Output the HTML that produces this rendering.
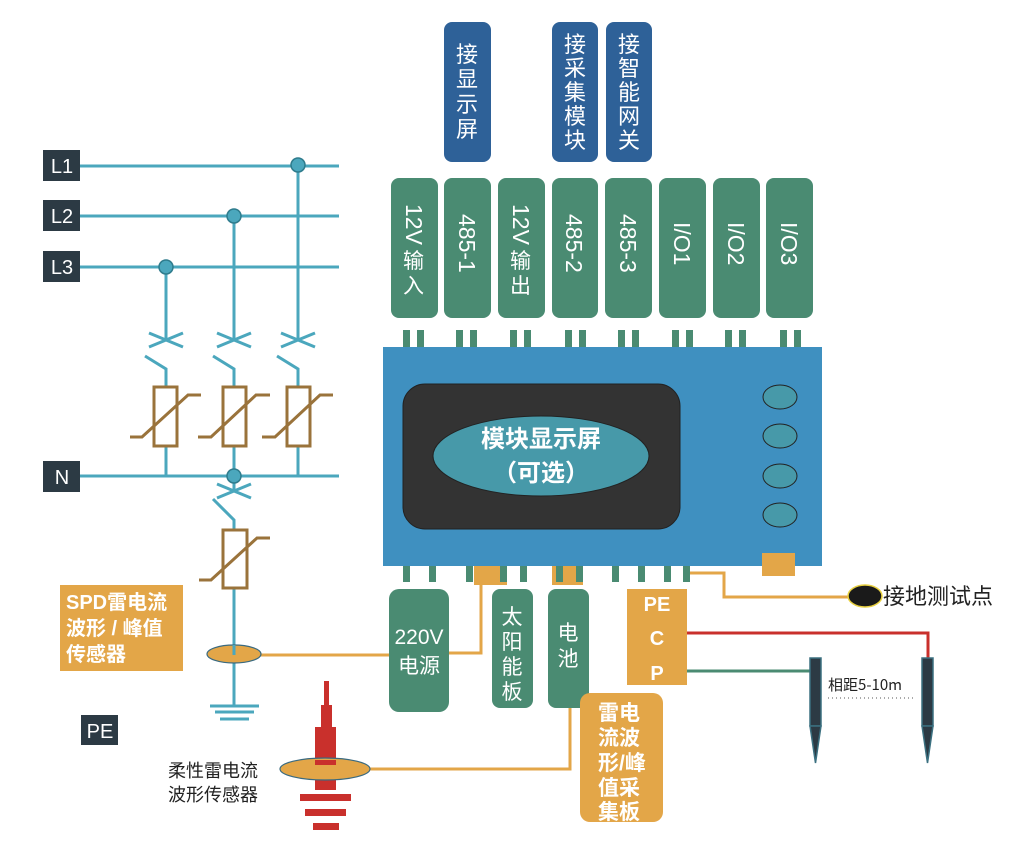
<!DOCTYPE html>
<html><head><meta charset="utf-8"><style>
html,body{margin:0;padding:0;background:#fff;}
svg{display:block;}
text{font-family:"Liberation Sans","Noto Sans CJK SC",sans-serif;}
.cjk{font-family:"Noto Sans CJK SC","Liberation Sans",sans-serif;}
</style></head><body>
<svg width="1026" height="854" viewBox="0 0 1026 854" xmlns="http://www.w3.org/2000/svg">
<g fill="#2e6198">
<rect x="444" y="22" width="47" height="140" rx="8"/>
<rect x="552" y="22" width="46" height="140" rx="8"/>
<rect x="606" y="22" width="46" height="140" rx="8"/>
</g>
<g class="cjk" fill="#fff" font-size="22" text-anchor="middle">
<text x="467" y="62">接</text><text x="467" y="87">显</text><text x="467" y="112">示</text><text x="467" y="137">屏</text>
<text x="575" y="52">接</text><text x="575" y="76">采</text><text x="575" y="100">集</text><text x="575" y="124">模</text><text x="575" y="148">块</text>
<text x="629" y="52">接</text><text x="629" y="76">智</text><text x="629" y="100">能</text><text x="629" y="124">网</text><text x="629" y="148">关</text>
</g>
<g fill="#4a8b72">
<rect x="391" y="178" width="47" height="140" rx="8"/>
<rect x="444" y="178" width="47" height="140" rx="8"/>
<rect x="498" y="178" width="47" height="140" rx="8"/>
<rect x="552" y="178" width="46" height="140" rx="8"/>
<rect x="605" y="178" width="47" height="140" rx="8"/>
<rect x="659" y="178" width="47" height="140" rx="8"/>
<rect x="713" y="178" width="47" height="140" rx="8"/>
<rect x="766" y="178" width="47" height="140" rx="8"/>
</g>
<g class="cjk" fill="#fff" font-size="23">
<text transform="translate(406,204) rotate(90)">12V</text>
<text x="403" y="268" font-size="21">输</text><text x="403" y="293" font-size="21">入</text>
<text transform="translate(459,214) rotate(90)">485-1</text>
<text transform="translate(513,204) rotate(90)">12V</text>
<text x="510" y="268" font-size="21">输</text><text x="510" y="293" font-size="21">出</text>
<text transform="translate(566,214) rotate(90)">485-2</text>
<text transform="translate(620,214) rotate(90)">485-3</text>
<text transform="translate(674,222) rotate(90)">I/O1</text>
<text transform="translate(728,222) rotate(90)">I/O2</text>
<text transform="translate(781,222) rotate(90)">I/O3</text>
</g>
<g fill="#4a8b72">
<rect x="403" y="330" width="7" height="18"/><rect x="417" y="330" width="7" height="18"/>
<rect x="456" y="330" width="7" height="18"/><rect x="470" y="330" width="7" height="18"/>
<rect x="510" y="330" width="7" height="18"/><rect x="524" y="330" width="7" height="18"/>
<rect x="565" y="330" width="7" height="18"/><rect x="579" y="330" width="7" height="18"/>
<rect x="618" y="330" width="7" height="18"/><rect x="632" y="330" width="7" height="18"/>
<rect x="672" y="330" width="7" height="18"/><rect x="686" y="330" width="7" height="18"/>
<rect x="725" y="330" width="7" height="18"/><rect x="739" y="330" width="7" height="18"/>
<rect x="780" y="330" width="7" height="18"/><rect x="794" y="330" width="7" height="18"/>
</g>
<rect x="383" y="347" width="439" height="219" fill="#3f90c0"/>
<rect x="403" y="384" width="277" height="145" rx="22" fill="#333" stroke="#222"/>
<ellipse cx="541" cy="456" rx="108" ry="40" fill="#4799a9" stroke="#222"/>
<text class="cjk" x="541" y="447" fill="#fff" font-size="24" font-weight="bold" text-anchor="middle">模块显示屏</text>
<text class="cjk" x="541" y="481" fill="#fff" font-size="24" font-weight="bold" text-anchor="middle">（可选）</text>
<g fill="#4799a9" stroke="#222">
<ellipse cx="780" cy="397" rx="17" ry="12"/><ellipse cx="780" cy="436" rx="17" ry="12"/>
<ellipse cx="780" cy="476" rx="17" ry="12"/><ellipse cx="780" cy="515" rx="17" ry="12"/>
</g>
<rect x="762" y="553" width="33" height="23" fill="#e3a648"/>
<rect x="474" y="566" width="33" height="19" fill="#e3a648"/>
<rect x="552" y="566" width="31" height="19" fill="#e3a648"/>
<g fill="#4a8b72">
<rect x="403" y="566" width="7" height="16"/><rect x="429" y="566" width="7" height="16"/>
<rect x="466" y="566" width="7" height="16"/><rect x="500" y="566" width="7" height="16"/>
<rect x="520" y="566" width="7" height="16"/><rect x="556" y="566" width="7" height="16"/>
<rect x="576" y="566" width="7" height="16"/><rect x="612" y="566" width="7" height="16"/>
<rect x="638" y="566" width="7" height="16"/><rect x="664" y="566" width="7" height="16"/>
<rect x="683" y="566" width="7" height="16"/>
</g>
<g fill="#4a8b72">
<rect x="389" y="589" width="60" height="123" rx="10"/>
<rect x="492" y="589" width="41" height="119" rx="8"/>
<rect x="548" y="589" width="41" height="119" rx="8"/>
</g>
<g class="cjk" fill="#fff" text-anchor="middle">
<text x="419" y="644" font-size="21">220V</text><text x="419" y="673" font-size="21">电源</text>
<text x="512" y="624" font-size="21">太</text><text x="512" y="649" font-size="21">阳</text><text x="512" y="674" font-size="21">能</text><text x="512" y="699" font-size="21">板</text>
<text x="568" y="640" font-size="21">电</text><text x="568" y="666" font-size="21">池</text>
</g>
<rect x="627" y="589" width="60" height="96" fill="#e3a648"/>
<g class="cjk" fill="#fff" font-size="20" font-weight="bold" text-anchor="middle">
<text x="657" y="611">PE</text><text x="657" y="645">C</text><text x="657" y="680">P</text>
</g>
<rect x="580" y="693" width="83" height="129" rx="10" fill="#e3a648"/>
<g class="cjk" fill="#fff" font-size="21" font-weight="bold">
<text x="598" y="720">雷电</text><text x="598" y="745">流波</text><text x="598" y="770">形/峰</text><text x="598" y="795">值采</text><text x="598" y="819">集板</text>
</g>
<g fill="none" stroke="#e3a648" stroke-width="3">
<polyline points="449,653 481,653 481,585"/>
<polyline points="260,655 389,655"/>
<polyline points="370,769 570,769 570,708"/>
<polyline points="690,573 724,573 724,597 848,597"/>
</g>
<polyline points="687,633 928,633 928,658" fill="none" stroke="#c9302c" stroke-width="3"/>
<polyline points="687,671 810,671" fill="none" stroke="#4a8b72" stroke-width="3"/>
<g fill="#2c3a44" stroke="#3b7080" stroke-width="1.5">
<rect x="810" y="658" width="11" height="68"/><polygon points="810,726 821,726 815.5,763"/>
<rect x="922" y="658" width="11" height="68"/><polygon points="922,726 933,726 927.5,763"/>
</g>
<text class="cjk" x="828" y="690" font-size="15" fill="#222">相距5-10m</text>
<line x1="828" y1="698" x2="916" y2="698" stroke="#555" stroke-dasharray="1,3"/>
<ellipse cx="865" cy="596" rx="17" ry="11" fill="#1a1a1a" stroke="#e8d040" stroke-width="1.5"/>
<text class="cjk" x="883" y="604" font-size="22" fill="#222">接地测试点</text>
<g stroke="#4ba7bd" stroke-width="3" fill="none">
<line x1="80" y1="166" x2="339" y2="166"/>
<line x1="80" y1="216" x2="339" y2="216"/>
<line x1="80" y1="267" x2="339" y2="267"/>
<line x1="80" y1="476" x2="339" y2="476"/>
<line x1="298" y1="166" x2="298" y2="340"/>
<line x1="234" y1="216" x2="234" y2="340"/>
<line x1="166" y1="267" x2="166" y2="340"/>
<path d="M149,333 L183,347 M149,347 L183,333"/>
<path d="M217,333 L251,347 M217,347 L251,333"/>
<path d="M281,333 L315,347 M281,347 L315,333"/>
<polyline points="145,356 166,369 166,387"/>
<polyline points="213,356 234,369 234,387"/>
<polyline points="277,356 298,369 298,387"/>
<line x1="166" y1="447" x2="166" y2="476"/>
<line x1="234" y1="447" x2="234" y2="476"/>
<line x1="298" y1="447" x2="298" y2="476"/>
<path d="M217,484 L251,498 M217,498 L251,484"/>
<line x1="234" y1="476" x2="234" y2="491"/>
<polyline points="213,499 234,520 234,530"/>
<line x1="234" y1="589" x2="234" y2="706"/>
<line x1="210" y1="706" x2="259" y2="706"/>
<line x1="215" y1="712" x2="254" y2="712"/>
<line x1="220" y1="719" x2="249" y2="719"/>
</g>
<g fill="#4ba7bd" stroke="#2e7b8c" stroke-width="1.5">
<circle cx="298" cy="165" r="7"/><circle cx="234" cy="216" r="7"/><circle cx="166" cy="267" r="7"/><circle cx="234" cy="476" r="7"/>
</g>
<g stroke="#9a733b" stroke-width="3" fill="#fff">
<rect x="154" y="387" width="23" height="59"/>
<rect x="223" y="387" width="23" height="59"/>
<rect x="287" y="387" width="23" height="59"/>
<rect x="223" y="530" width="24" height="58"/>
</g>
<g stroke="#9a733b" stroke-width="3" fill="none">
<polyline points="130,437 142,437 188,395 201,395"/>
<polyline points="198,437 211,437 256,395 270,395"/>
<polyline points="262,437 275,437 320,395 333,395"/>
<polyline points="199,580 211,580 257,538 270,538"/>
</g>
<ellipse cx="234" cy="654" rx="27" ry="9" fill="#e3a648" stroke="#3a6a80" stroke-width="1.2"/>
<line x1="234" y1="645" x2="234" y2="655" stroke="#4ba7bd" stroke-width="3"/>
<g fill="#2c3a44">
<rect x="43" y="150" width="37" height="31"/><rect x="43" y="200" width="37" height="31"/>
<rect x="43" y="251" width="37" height="31"/><rect x="43" y="461" width="37" height="31"/>
<rect x="81" y="715" width="37" height="30"/>
</g>
<g fill="#fff" font-size="20" text-anchor="middle">
<text x="62" y="173">L1</text><text x="62" y="223">L2</text><text x="62" y="274">L3</text><text x="62" y="484">N</text><text x="100" y="738">PE</text>
</g>
<rect x="60" y="585" width="123" height="86" fill="#e3a648"/>
<g class="cjk" fill="#fff" font-size="20" font-weight="bold">
<text x="66" y="609">SPD雷电流</text><text x="66" y="635">波形 / 峰值</text><text x="66" y="661">传感器</text>
</g>
<g fill="#c9302c">
<rect x="324" y="681" width="5" height="25"/>
<rect x="321" y="705" width="11" height="22"/>
<rect x="315" y="727" width="21" height="40"/>
<rect x="315" y="780" width="21" height="10"/>
<rect x="300" y="794" width="51" height="7"/>
<rect x="305" y="809" width="41" height="7"/>
<rect x="313" y="823" width="26" height="7"/>
</g>
<ellipse cx="325" cy="769" rx="45" ry="11" fill="#e3a648" stroke="#3a6a80" stroke-width="1.2"/>
<rect x="315" y="760" width="21" height="5" fill="#c9302c"/>
<g class="cjk" fill="#222" font-size="18">
<text x="168" y="777">柔性雷电流</text><text x="168" y="801">波形传感器</text>
</g>
</svg>
</body></html>
